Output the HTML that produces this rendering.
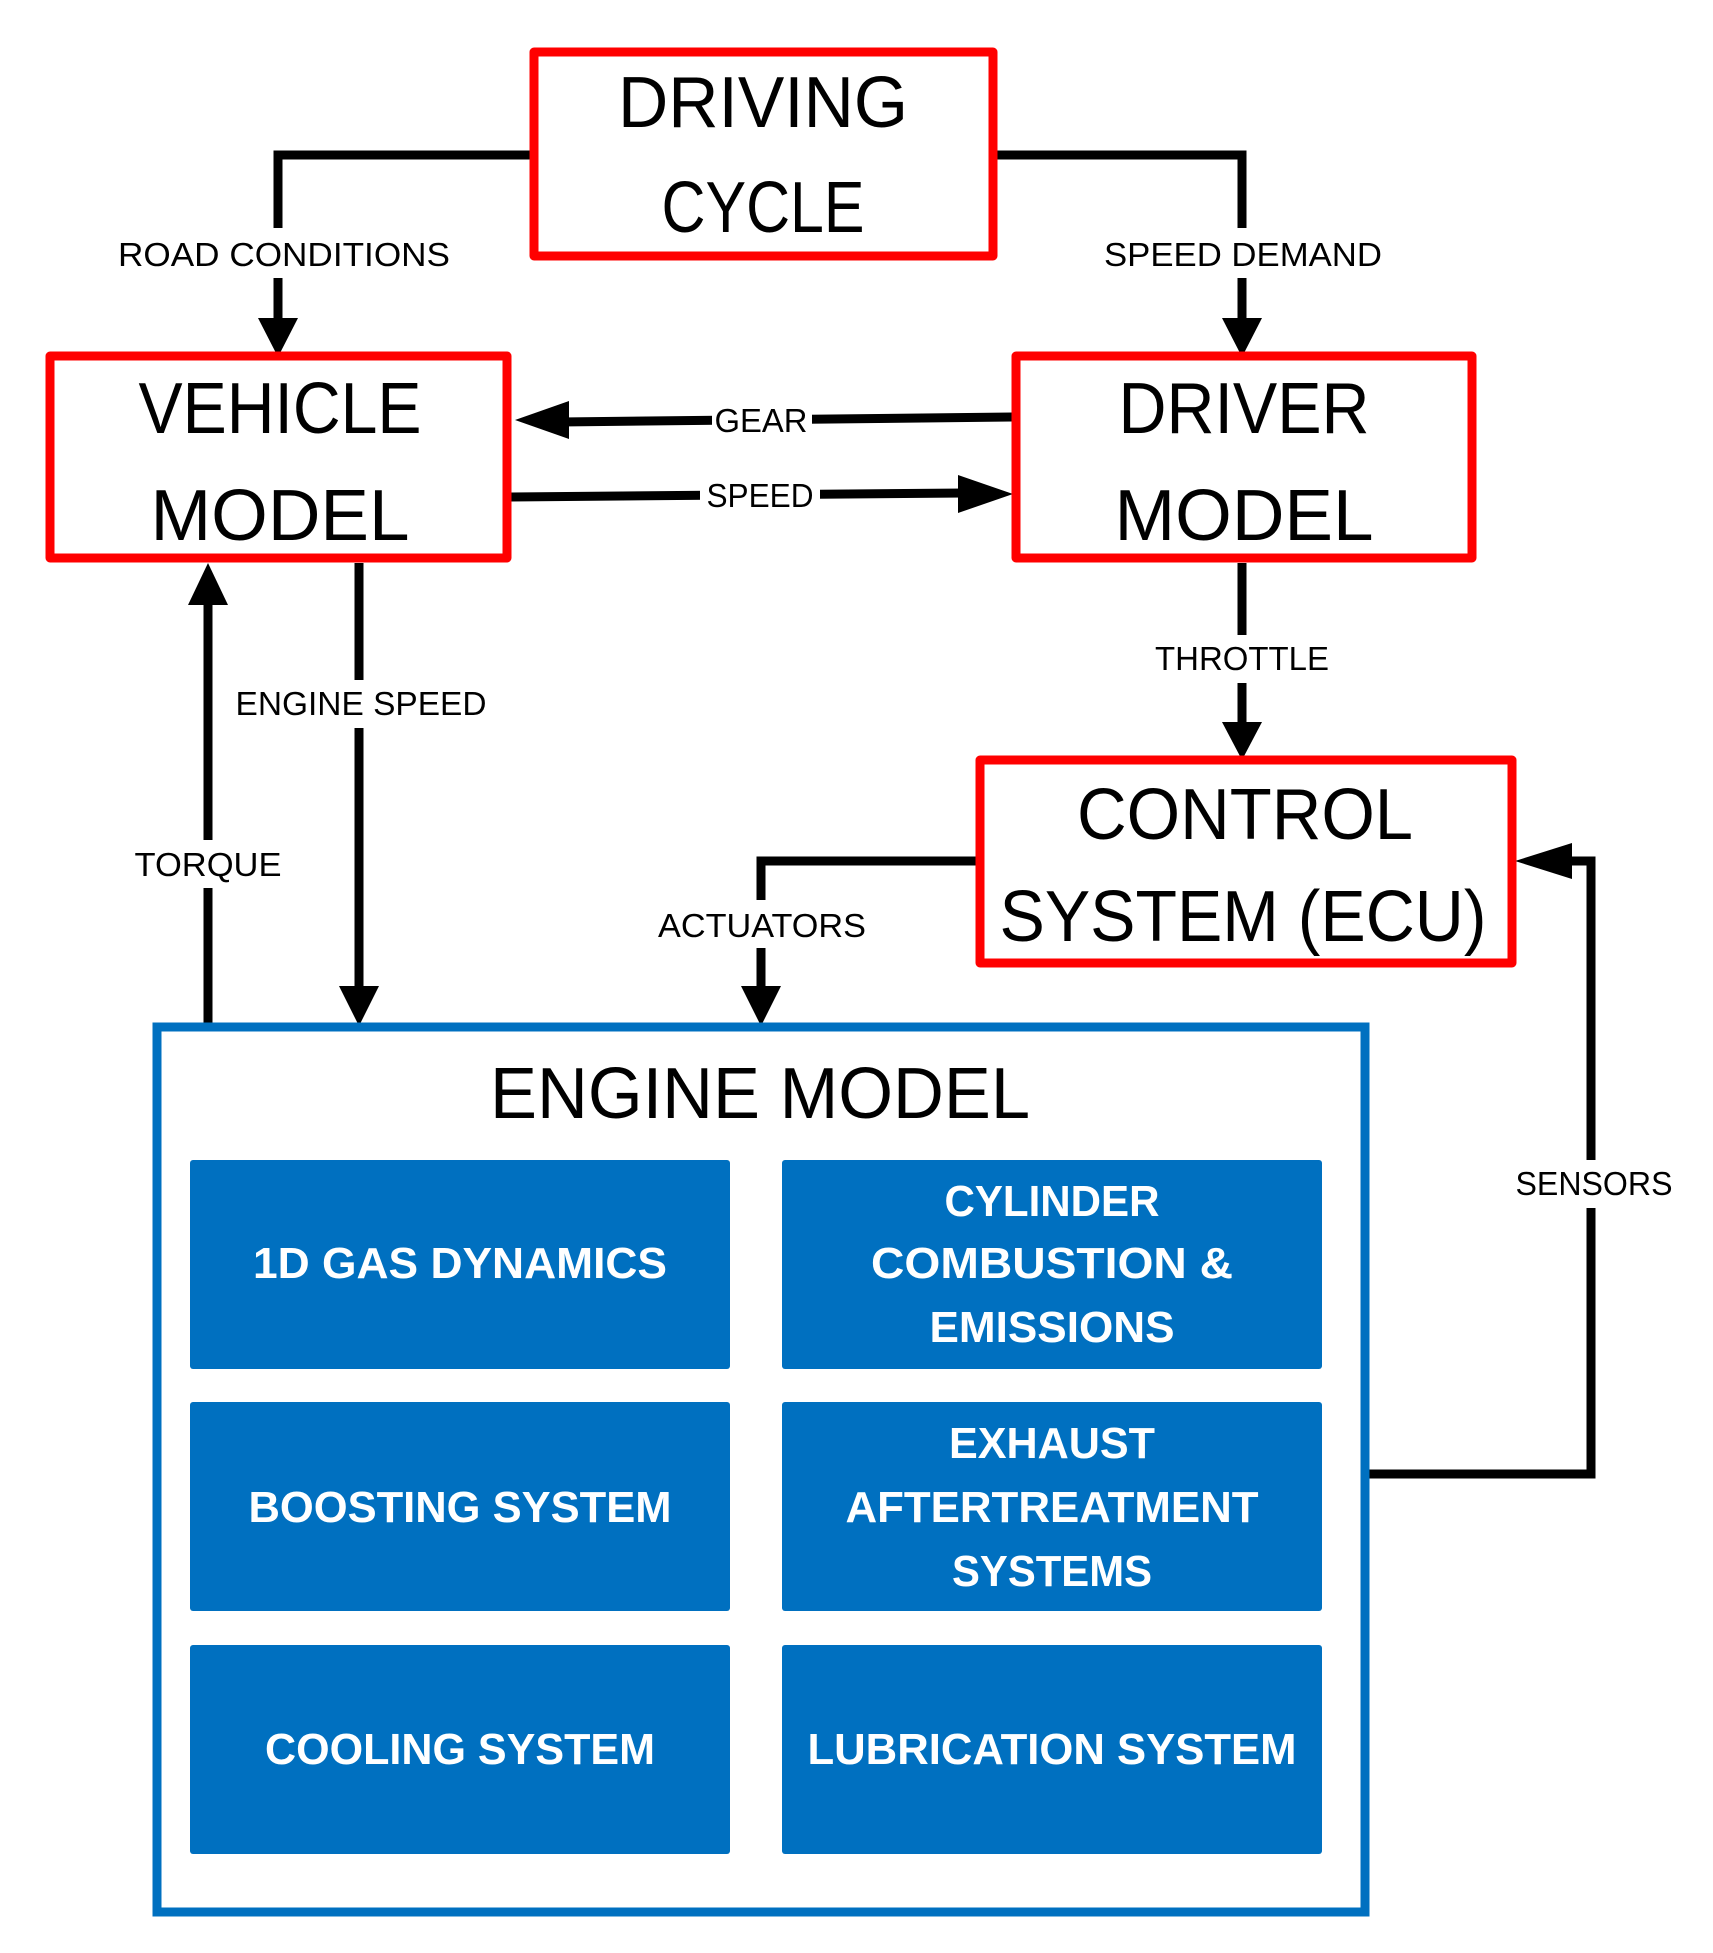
<!DOCTYPE html>
<html><head><meta charset="utf-8"><style>html,body{margin:0;padding:0;background:#fff}svg{display:block}</style></head>
<body>
<svg width="1713" height="1953" viewBox="0 0 1713 1953" xmlns="http://www.w3.org/2000/svg" font-family="Liberation Sans, sans-serif">
<g fill="none" stroke="#000" stroke-width="9">
  <polyline points="535,155 278,155 278,322"/>
  <polyline points="992,155 1242,155 1242,322"/>
  <line x1="1012" y1="417" x2="560" y2="422"/>
  <line x1="511" y1="497" x2="965" y2="493"/>
  <line x1="1242" y1="563" x2="1242" y2="728"/>
  <line x1="359" y1="563" x2="359" y2="992"/>
  <line x1="208" y1="1030" x2="208" y2="600"/>
  <polyline points="976,861 761,861 761,992"/>
  <polyline points="1369,1474 1591,1474 1591,861 1565,861"/>
</g>
<g fill="#000">
  <polygon points="258,318 298,318 278,357"/>
  <polygon points="1222,318 1262,318 1242,357"/>
  <polygon points="515,420 569,401 569,439"/>
  <polygon points="1013,494 958,475 958,513"/>
  <polygon points="1222,722 1262,722 1242,760"/>
  <polygon points="339,986 379,986 359,1026"/>
  <polygon points="188,605 228,605 208,563"/>
  <polygon points="741,986 781,986 761,1026"/>
  <polygon points="1515,861 1572,843 1572,879"/>
</g>
<g fill="#fff">
  <rect x="110" y="228" width="340" height="50"/>
  <rect x="1100" y="228" width="290" height="50"/>
  <rect x="712" y="400" width="100" height="40"/>
  <rect x="700" y="475" width="120" height="40"/>
  <rect x="1150" y="635" width="190" height="48"/>
  <rect x="230" y="680" width="265" height="48"/>
  <rect x="125" y="840" width="165" height="48"/>
  <rect x="650" y="900" width="225" height="48"/>
  <rect x="1510" y="1160" width="165" height="48"/>
</g>
<g fill="#fff" stroke="#ff0000" stroke-width="9" stroke-linejoin="round">
  <rect x="534" y="52" width="459" height="204"/>
  <rect x="50" y="356" width="457" height="202"/>
  <rect x="1016" y="356" width="456" height="202"/>
  <rect x="980" y="760" width="532" height="203"/>
</g>
<rect x="157" y="1027" width="1208" height="885" fill="#fff" stroke="#0070c0" stroke-width="9"/>
<g fill="#0070c0">
  <rect x="190" y="1160" width="540" height="209" rx="3"/>
  <rect x="782" y="1160" width="540" height="209" rx="3"/>
  <rect x="190" y="1402" width="540" height="209" rx="3"/>
  <rect x="782" y="1402" width="540" height="209" rx="3"/>
  <rect x="190" y="1645" width="540" height="209" rx="3"/>
  <rect x="782" y="1645" width="540" height="209" rx="3"/>
</g>
<g font-size="72" text-anchor="middle" fill="#000" lengthAdjust="spacingAndGlyphs">
  <text x="763" y="127" textLength="290" lengthAdjust="spacingAndGlyphs">DRIVING</text>
  <text x="763" y="232" textLength="203" lengthAdjust="spacingAndGlyphs">CYCLE</text>
  <text x="280" y="433" textLength="283" lengthAdjust="spacingAndGlyphs">VEHICLE</text>
  <text x="280" y="540" textLength="259" lengthAdjust="spacingAndGlyphs">MODEL</text>
  <text x="1244" y="433" textLength="251" lengthAdjust="spacingAndGlyphs">DRIVER</text>
  <text x="1244" y="540" textLength="259" lengthAdjust="spacingAndGlyphs">MODEL</text>
  <text x="1245" y="839" textLength="336" lengthAdjust="spacingAndGlyphs">CONTROL</text>
  <text x="1243" y="941" textLength="487" lengthAdjust="spacingAndGlyphs">SYSTEM (ECU)</text>
  <text x="760" y="1118" textLength="540" lengthAdjust="spacingAndGlyphs">ENGINE MODEL</text>
</g>
<g font-size="44" font-weight="bold" text-anchor="middle" fill="#fff">
  <text x="460" y="1278" textLength="414" lengthAdjust="spacingAndGlyphs">1D GAS DYNAMICS</text>
  <text x="1052" y="1216" textLength="215" lengthAdjust="spacingAndGlyphs">CYLINDER</text>
  <text x="1052" y="1278" textLength="362" lengthAdjust="spacingAndGlyphs">COMBUSTION &amp;</text>
  <text x="1052" y="1342" textLength="245" lengthAdjust="spacingAndGlyphs">EMISSIONS</text>
  <text x="460" y="1522" textLength="423" lengthAdjust="spacingAndGlyphs">BOOSTING SYSTEM</text>
  <text x="1052" y="1458" textLength="206" lengthAdjust="spacingAndGlyphs">EXHAUST</text>
  <text x="1052" y="1522" textLength="413" lengthAdjust="spacingAndGlyphs">AFTERTREATMENT</text>
  <text x="1052" y="1586" textLength="200" lengthAdjust="spacingAndGlyphs">SYSTEMS</text>
  <text x="460" y="1764" textLength="390" lengthAdjust="spacingAndGlyphs">COOLING SYSTEM</text>
  <text x="1052" y="1764" textLength="489" lengthAdjust="spacingAndGlyphs">LUBRICATION SYSTEM</text>
</g>
<g font-size="33" text-anchor="middle" fill="#000">
  <text x="284" y="266" textLength="332" lengthAdjust="spacingAndGlyphs">ROAD CONDITIONS</text>
  <text x="1243" y="266" textLength="278" lengthAdjust="spacingAndGlyphs">SPEED DEMAND</text>
  <text x="761" y="432" textLength="93" lengthAdjust="spacingAndGlyphs">GEAR</text>
  <text x="760" y="507" textLength="107" lengthAdjust="spacingAndGlyphs">SPEED</text>
  <text x="1242" y="670" textLength="174" lengthAdjust="spacingAndGlyphs">THROTTLE</text>
  <text x="361" y="715" textLength="251" lengthAdjust="spacingAndGlyphs">ENGINE SPEED</text>
  <text x="208" y="876" textLength="147" lengthAdjust="spacingAndGlyphs">TORQUE</text>
  <text x="762" y="937" textLength="208" lengthAdjust="spacingAndGlyphs">ACTUATORS</text>
  <text x="1594" y="1195" textLength="157" lengthAdjust="spacingAndGlyphs">SENSORS</text>
</g>
</svg>
</body></html>
